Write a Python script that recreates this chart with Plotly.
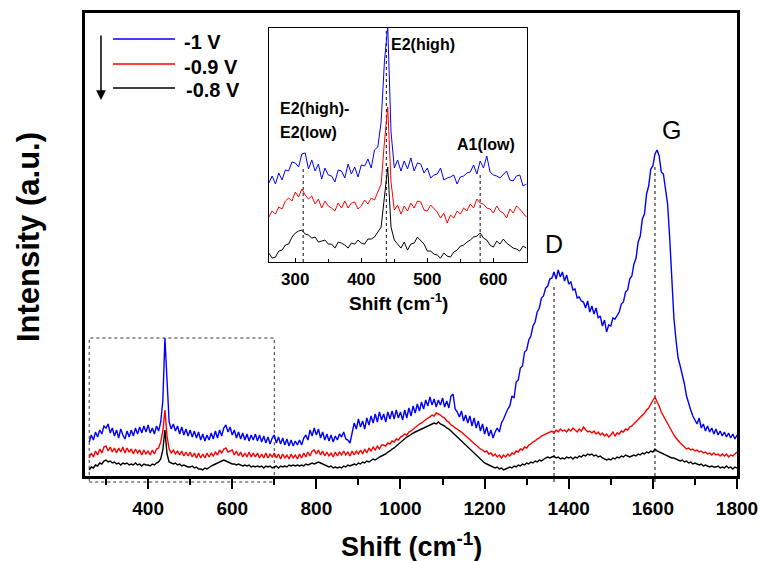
import plotly.graph_objects as go

# ---------------- data ----------------
SERIES_NAMES = ["-1 V", "-0.9 V", "-0.8 V"]
SERIES_COLORS = ["#0000ff", "#ff0000", "#000000"]

# main spectrum: Raman shift grid (cm-1), 5 cm-1 sampling
MAIN_SHIFT = list(range(260, 1801, 5))

MAIN_BLUE = [
    34, 41, 36, 44, 39, 46, 42, 50, 48, 52, 43, 48, 40, 46, 38, 47, 41, 37, 45, 39,
    46, 40, 48, 42, 49, 43, 50, 44, 51, 43, 48, 42, 50, 45, 54, 75, 138, 90, 54, 47,
    52, 45, 50, 42, 49, 41, 47, 40, 46, 39, 45, 38, 44, 36, 42, 35, 41, 36, 43, 37,
    45, 38, 46, 40, 48, 51, 44, 49, 41, 46, 38, 44, 37, 43, 36, 42, 35, 41, 36, 42,
    35, 41, 34, 40, 33, 39, 32, 38, 41, 33, 39, 32, 38, 31, 37, 30, 36, 30, 35, 31,
    36, 31, 38, 41, 36, 46, 40, 48, 41, 47, 38, 44, 36, 42, 35, 41, 34, 40, 36, 42,
    39, 44, 37, 36, 33, 43, 53, 47, 57, 49, 55, 47, 58, 51, 60, 53, 62, 54, 64, 56,
    62, 54, 64, 57, 65, 57, 66, 58, 64, 56, 66, 58, 68, 60, 70, 63, 72, 65, 74, 67,
    76, 70, 79, 71, 77, 69, 76, 71, 78, 69, 75, 68, 80, 82, 67, 64, 59, 65, 55, 61,
    53, 60, 50, 58, 48, 55, 45, 52, 42, 49, 40, 46, 38, 44, 48, 44, 53, 57, 63, 67,
    70, 80, 78, 94, 96, 108, 110, 124, 126, 136, 140, 150, 154, 164, 168, 178, 180, 188, 190, 197,
    198, 204, 197, 206, 199, 204, 195, 201, 192, 194, 186, 187, 178, 179, 175, 174, 168, 175, 164, 170,
    162, 168, 158, 160, 150, 156, 144, 151, 150, 158, 157, 161, 164, 172, 174, 184, 186, 197, 200, 212,
    218, 234, 240, 257, 262, 282, 290, 307, 310, 322, 326, 320, 304, 302, 288, 272, 238, 202, 158, 136,
    118, 110, 102, 92, 80, 72, 66, 60, 56, 52, 58, 48, 52, 45, 50, 44, 48, 42, 47, 41,
    45, 40, 44, 39, 43, 38, 42, 37, 41,
]

MAIN_RED = [
    18, 23, 19, 25, 21, 27, 23, 29, 30, 25, 29, 24, 28, 23, 28, 24, 29, 23, 28, 24,
    27, 22, 27, 23, 26, 21, 26, 22, 25, 21, 26, 22, 27, 28, 34, 45, 66, 40, 27, 23,
    26, 22, 25, 21, 25, 20, 24, 20, 24, 19, 23, 18, 23, 18, 22, 18, 23, 19, 23, 20,
    24, 21, 26, 23, 27, 28, 24, 25, 26, 21, 25, 20, 24, 19, 23, 19, 24, 19, 23, 19,
    23, 18, 22, 18, 23, 18, 22, 19, 23, 18, 22, 17, 22, 18, 21, 17, 22, 18, 21, 17,
    22, 18, 23, 19, 24, 20, 25, 26, 22, 26, 21, 25, 20, 24, 20, 23, 19, 24, 20, 24,
    21, 25, 21, 24, 20, 25, 21, 25, 22, 26, 22, 27, 23, 28, 25, 29, 26, 30, 27, 31,
    31, 30, 33, 32, 35, 34, 37, 36, 39, 40, 42, 41, 44, 45, 47, 48, 50, 52, 53, 55,
    56, 58, 59, 61, 60, 63, 62, 61, 59, 58, 55, 54, 51, 50, 48, 47, 45, 44, 42, 40,
    38, 36, 34, 32, 30, 29, 27, 26, 24, 25, 22, 23, 20, 22, 19, 21, 18, 21, 19, 22,
    20, 23, 22, 25, 24, 27, 26, 29, 28, 31, 32, 34, 35, 37, 38, 40, 41, 42, 43, 44,
    45, 43, 46, 44, 47, 45, 46, 44, 47, 45, 48, 46, 44, 47, 45, 49, 46, 44, 45, 43,
    45, 42, 44, 41, 43, 40, 42, 39, 41, 44, 40, 43, 42, 45, 44, 47, 46, 49, 50, 52,
    54, 56, 58, 61, 63, 66, 68, 72, 75, 79, 74, 70, 64, 60, 56, 52, 48, 45, 41, 38,
    35, 33, 31, 29, 27, 28, 26, 27, 25, 26, 24, 25, 23, 24, 22, 23, 21, 23, 21, 22,
    20, 22, 20, 22, 19, 21, 20, 22, 24,
]

MAIN_BLACK = [
    6, 9, 8, 11, 10, 13, 12, 15, 16, 14, 15, 13, 14, 12, 13, 11, 13, 12, 13, 11,
    12, 11, 13, 11, 12, 10, 12, 11, 11, 10, 12, 11, 13, 14, 17, 26, 46, 22, 14, 13,
    12, 13, 11, 12, 10, 11, 10, 9, 9, 10, 8, 9, 7, 7, 6, 8, 7, 9, 10, 11,
    12, 13, 14, 15, 16, 15, 14, 13, 12, 12, 11, 12, 11, 10, 11, 10, 11, 9, 10, 9,
    10, 9, 10, 8, 10, 9, 10, 8, 9, 10, 8, 10, 9, 10, 9, 11, 10, 11, 10, 11,
    10, 11, 10, 12, 11, 12, 13, 12, 13, 14, 13, 12, 11, 10, 9, 10, 8, 9, 8, 9,
    8, 10, 9, 11, 10, 11, 12, 11, 13, 12, 14, 13, 15, 14, 16, 17, 16, 18, 19, 20,
    21, 22, 24, 25, 27, 28, 30, 32, 34, 36, 37, 39, 40, 42, 43, 44, 45, 46, 47, 48,
    49, 50, 51, 52, 53, 52, 54, 52, 51, 50, 48, 47, 45, 43, 41, 39, 37, 35, 33, 31,
    29, 27, 25, 23, 21, 19, 17, 15, 13, 12, 11, 10, 9, 8, 9, 7, 8, 6, 7, 8,
    9, 8, 10, 9, 11, 10, 12, 11, 13, 12, 14, 13, 15, 14, 16, 15, 17, 18, 19, 18,
    19, 20, 18, 19, 17, 18, 17, 19, 18, 19, 17, 19, 18, 20, 19, 21, 20, 22, 21, 22,
    20, 21, 19, 20, 18, 17, 16, 17, 16, 18, 17, 19, 18, 20, 19, 21, 20, 19, 20, 21,
    20, 22, 21, 23, 22, 24, 23, 25, 24, 27, 25, 24, 23, 22, 21, 20, 19, 18, 18, 17,
    16, 15, 16, 14, 15, 13, 14, 12, 13, 12, 11, 12, 10, 11, 10, 9, 10, 9, 9, 10,
    8, 9, 8, 10, 8, 9, 7, 9, 8,
]

# inset (zoom on 260-650 cm-1, separately offset)
INSET_SHIFT = list(range(260, 651, 5))

INSET_BLUE = [
    79, 86, 78, 89, 82, 92, 91, 100, 99, 95, 108, 109, 93, 102, 91, 98, 83, 94, 87, 86,
    80, 92, 91, 84, 98, 88, 95, 85, 97, 96, 103, 94, 112, 115, 140, 200, 236, 130, 94, 102,
    91, 101, 93, 104, 91, 99, 98, 89, 94, 84, 87, 88, 94, 82, 84, 85, 87, 78, 85, 86,
    89, 90, 97, 88, 101, 94, 106, 90, 87, 86, 84, 88, 91, 82, 81, 86, 87, 76, 78,
]

INSET_RED = [
    45, 51, 48, 55, 53, 61, 64, 61, 70, 65, 73, 67, 63, 66, 58, 63, 54, 61, 56, 54,
    51, 59, 54, 61, 54, 59, 60, 53, 56, 62, 58, 64, 62, 70, 78, 120, 155, 80, 52, 57,
    48, 56, 51, 59, 54, 61, 60, 52, 51, 57, 53, 50, 44, 49, 39, 47, 44, 51, 48, 54,
    51, 58, 54, 63, 59, 58, 54, 53, 49, 56, 51, 49, 44, 53, 49, 56, 53, 49, 45,
]

INSET_BLACK = [
    9, 4, 5, 11, 12, 17, 18, 25, 29, 31, 32, 28, 27, 24, 25, 20, 21, 22, 18, 18,
    14, 20, 19, 17, 14, 19, 18, 22, 19, 18, 23, 23, 25, 30, 35, 65, 95, 35, 22, 18,
    14, 20, 12, 18, 19, 25, 21, 18, 11, 11, 8, 7, 4, 9, 6, 5, 10, 12, 16, 17,
    20, 22, 25, 26, 29, 24, 22, 17, 15, 21, 18, 23, 19, 16, 14, 13, 11, 16, 14,
]

MAIN_TICKS = [400, 600, 800, 1000, 1200, 1400, 1600, 1800]
INSET_TICKS = [300, 400, 500, 600]

# peak markers
MAIN_PEAKS = [("D", 1365), ("G", 1605)]
INSET_PEAKS = [312, 438, 580]

assert len(MAIN_BLUE) == len(MAIN_SHIFT) == len(MAIN_RED) == len(MAIN_BLACK)
assert len(INSET_BLUE) == len(INSET_SHIFT) == len(INSET_RED) == len(INSET_BLACK)

FONT = "Liberation Sans, Arial, Helvetica, sans-serif"

fig = go.Figure()

main_y = [MAIN_BLUE, MAIN_RED, MAIN_BLACK]
inset_y = [INSET_BLUE, INSET_RED, INSET_BLACK]
for name, col, ys in zip(SERIES_NAMES, SERIES_COLORS, main_y):
    fig.add_trace(go.Scatter(x=MAIN_SHIFT, y=ys, mode="lines", name=name,
                             line=dict(color=col, width=1.4), showlegend=False,
                             xaxis="x", yaxis="y"))
for name, col, ys in zip(SERIES_NAMES, SERIES_COLORS, inset_y):
    fig.add_trace(go.Scatter(x=INSET_SHIFT, y=ys, mode="lines", name=name,
                             line=dict(color=col, width=1), showlegend=False,
                             xaxis="x2", yaxis="y2"))

fig.update_layout(
    width=761, height=561,
    margin=dict(l=85, r=24, t=13, b=85, autoexpand=False),
    paper_bgcolor="white", plot_bgcolor="white",
    font=dict(family=FONT, color="black"),
    xaxis=dict(
        domain=[0, 1], range=[250, 1800], showgrid=False, zeroline=False,
        automargin=False,
        showline=True, linecolor="black", linewidth=2.5, mirror=True,
        ticks="outside", ticklen=10, tickwidth=2, tickcolor="black",
        tickvals=MAIN_TICKS, ticktext=[f"<b>{v}</b>" for v in MAIN_TICKS],
        tickfont=dict(size=19, family=FONT), ticklabelstandoff=3,
        minor=dict(dtick=100, tick0=0, ticks="outside", ticklen=6, tickwidth=2,
                   tickcolor="black", showgrid=False),
    ),
    yaxis=dict(
        domain=[0, 1], range=[0, 463], showgrid=False, zeroline=False,
        automargin=False,
        showline=True, linecolor="black", linewidth=2.5, mirror=True,
        ticks="", showticklabels=False,
    ),
    xaxis2=dict(
        domain=[0.282, 0.678], anchor="y2", range=[260, 651], showgrid=False,
        automargin=False,
        zeroline=False, showline=True, linecolor="black", linewidth=1, mirror=True,
        ticks="inside", ticklen=4, tickwidth=1, tickcolor="black",
        tickvals=INSET_TICKS, ticktext=[f"<b>{v}</b>" for v in INSET_TICKS],
        tickfont=dict(size=17, family=FONT), ticklabelstandoff=2,
        minor=dict(dtick=50, tick0=0, ticks="inside", ticklen=3, tickwidth=1,
                   tickcolor="black"),
    ),
    yaxis2=dict(
        domain=[0.462, 0.968], anchor="x2", range=[0, 234], showgrid=False,
        automargin=False,
        zeroline=False, showline=True, linecolor="black", linewidth=1, mirror=True,
        ticks="", showticklabels=False,
    ),
)

shapes = []
# dotted zoom rectangle on main plot
shapes.append(dict(type="rect", xref="x", yref="paper", x0=260, x1=700,
                   y0=-0.013, y1=0.298, line=dict(color="#333333", width=1, dash="dot"),
                   layer="below"))
# D and G dotted guides
peak_tops = {"D": 0.413, "G": 0.672}
for lab, xv in MAIN_PEAKS:
    shapes.append(dict(type="line", xref="x", yref="paper", x0=xv, x1=xv,
                       y0=-0.013, y1=peak_tops[lab],
                       line=dict(color="#333333", width=1.2, dash="dot"), layer="below"))
# inset dotted guides
inset_tops = [95, 234, 87]
for xv, top in zip(INSET_PEAKS, inset_tops):
    shapes.append(dict(type="line", xref="x2", yref="y2", x0=xv, x1=xv, y0=0, y1=top,
                       line=dict(color="#333333", width=1.2, dash="dot"), layer="below"))
# custom legend lines
leg_y = [0.944, 0.890, 0.838]
for col, yy in zip(SERIES_COLORS, leg_y):
    shapes.append(dict(type="line", xref="paper", yref="paper", x0=0.043, x1=0.138,
                       y0=yy, y1=yy, line=dict(color=col, width=1.5)))
fig.update_layout(shapes=shapes)

ann = []
lab_y = [0.937, 0.883, 0.834]
lab_x = [0.149, 0.149, 0.152]
for name, xx, yy in zip(SERIES_NAMES, lab_x, lab_y):
    ann.append(dict(xref="paper", yref="paper", x=xx, y=yy, text=f"<b>{name}</b>",
                    showarrow=False, xanchor="left", yanchor="middle",
                    font=dict(size=20, family=FONT)))
# downward arrow next to legend
ann.append(dict(xref="paper", yref="paper", x=0.0245, y=0.812, ax=0, ay=-66,
                axref="pixel", ayref="pixel", text="", showarrow=True,
                arrowhead=2, arrowsize=1.3, arrowwidth=1.5, arrowcolor="black"))
# D / G labels
ann.append(dict(xref="x", yref="y", x=1364, y=232, text="D", showarrow=False,
                font=dict(size=25, family=FONT)))
ann.append(dict(xref="x", yref="y", x=1645, y=346, text="G", showarrow=False,
                font=dict(size=25, family=FONT)))
# inset labels
inset_labels = [("E2(high)", 442, 217), ("E2(high)-", 273.6, 153),
                ("E2(low)", 273.6, 129), ("A1(low)", 541.8, 117)]
for t, xx, yy in inset_labels:
    ann.append(dict(xref="x2", yref="y2", x=xx, y=yy, text=f"<b>{t}</b>",
                    showarrow=False, xanchor="left", yanchor="middle",
                    font=dict(size=16, family=FONT)))
# axis titles
ann.append(dict(xref="paper", yref="paper", x=0.5, y=-0.149,
                text="<b>Shift (cm<sup>-1</sup>)</b>", showarrow=False,
                xanchor="center", yanchor="middle", font=dict(size=27, family=FONT)))
ann.append(dict(xref="paper", yref="paper", x=-0.0874, y=0.516,
                text="<b>Intensity (a.u.)</b>", showarrow=False, textangle=-90,
                xanchor="center", yanchor="middle", font=dict(size=31, family=FONT)))
ann.append(dict(xref="paper", yref="paper", x=(398 - 85) / 652, y=(476 - 302) / 463,
                text="<b>Shift (cm<sup>-1</sup>)</b>", showarrow=False,
                xanchor="center", yanchor="middle", font=dict(size=19, family=FONT)))
fig.update_layout(annotations=ann)

fig.write_html("out.html")
